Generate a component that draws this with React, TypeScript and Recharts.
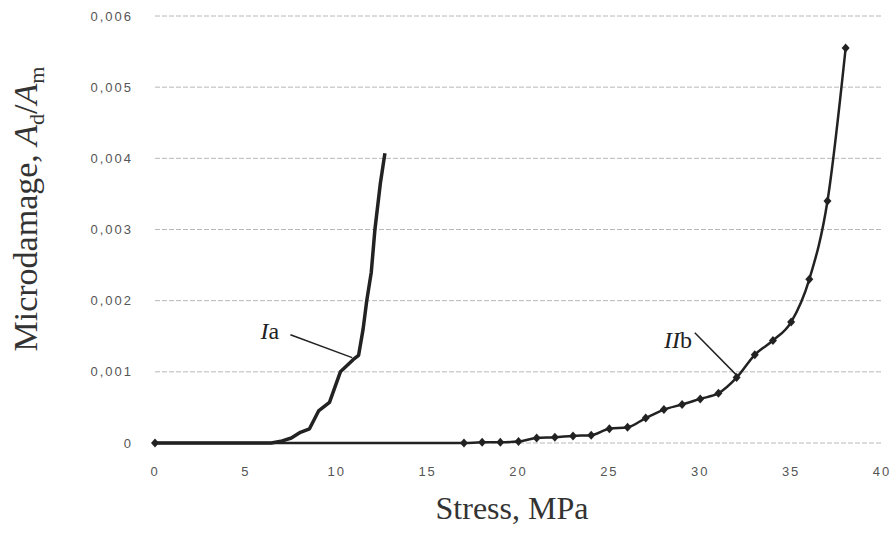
import { LineChart, Line, XAxis, YAxis, CartesianGrid, ReferenceLine, ReferenceDot } from 'recharts';

// curve Ia (no markers)
const stressIa = [0, 6.4, 7, 7.5, 8, 8.5, 9, 9.6, 10.2, 10.9, 11.2, 11.45, 11.65, 11.9, 12.1, 12.4, 12.65];
const damageIa = [0, 0, 0.00003, 0.00007, 0.00015, 0.0002, 0.00045, 0.00057, 0.001, 0.00117, 0.00123, 0.0016, 0.002, 0.0024, 0.003, 0.00365, 0.00407];

// curve IIb (diamond markers)
const stressIIb = [0, 17, 18, 19, 20, 21, 22, 23, 24, 25, 26, 27, 28, 29, 30, 31, 32, 33, 34, 35, 36, 37, 38];
const damageIIb = [0, 0, 0.00001, 0.00001, 0.00002, 0.00007, 0.00008, 0.0001, 0.00011, 0.0002, 0.00022, 0.00035, 0.00047, 0.00054, 0.00062, 0.0007, 0.00092, 0.00124, 0.00144, 0.0017, 0.0023, 0.0034, 0.00555];

const xTicks = [0, 5, 10, 15, 20, 25, 30, 35, 40];
const yTicks = [0, 0.001, 0.002, 0.003, 0.004, 0.005, 0.006];

const dataIa = stressIa.map((x, i) => ({ x, y: damageIa[i] }));
const dataIIb = stressIIb.map((x, i) => ({ x, y: damageIIb[i] }));

const Diamond = (props: any) => {
  const { cx, cy } = props;
  if (cx == null || cy == null) return null;
  return <polygon points={`${cx},${cy - 4.5} ${cx + 4},${cy} ${cx},${cy + 4.5} ${cx - 4},${cy}`} fill="#222" />;
};

const tickStyle = { fontSize: 13, fill: '#555', letterSpacing: 2, fontFamily: 'Liberation Sans, Arial, sans-serif' };
const serif = 'Liberation Serif, Times New Roman, serif';

const App = () => {
  return (
    <div style={{ position: 'absolute', left: 0, top: 0, width: 895, height: 535, background: '#fff' }}>
      <LineChart width={895} height={535} margin={{ top: 16, right: 13, left: 0, bottom: 62 }}>
        <CartesianGrid vertical={false} stroke="#b8b8b8" strokeDasharray="5 2" />
        <XAxis
          type="number"
          dataKey="x"
          domain={[0, 40]}
          ticks={xTicks}
          axisLine={false}
          tickLine={false}
          tick={tickStyle}
          tickMargin={18}
          allowDuplicatedCategory={false}
        />
        <YAxis
          type="number"
          dataKey="y"
          width={155}
          domain={[0, 0.006]}
          ticks={yTicks}
          axisLine={false}
          tickLine={false}
          tick={tickStyle}
          tickMargin={16}
          tickFormatter={(v: number) => (v === 0 ? '0' : v.toFixed(3).replace('.', ','))}
        />
        <Line data={dataIa} dataKey="y" type="linear" stroke="#222" strokeWidth={3.5} strokeLinejoin="round" dot={false} isAnimationActive={false} />
        <Line data={dataIIb} dataKey="y" type="monotone" stroke="#222" strokeWidth={2.5} dot={<Diamond />} activeDot={false} isAnimationActive={false} />
        <ReferenceLine segment={[{ x: 7.45, y: 0.00152 }, { x: 10.85, y: 0.0012 }]} stroke="#222" strokeWidth={1.5} />
        <ReferenceLine segment={[{ x: 29.7, y: 0.00155 }, { x: 32.05, y: 0.00094 }]} stroke="#222" strokeWidth={1.5} />
        <ReferenceDot
          x={5.8}
          y={0.00146}
          r={0}
          shape={(p: any) => (
            <text x={p.cx} y={p.cy} fontFamily={serif} fontSize={24} fill="#222">
              <tspan fontStyle="italic">I</tspan>a
            </text>
          )}
        />
        <ReferenceDot
          x={28.0}
          y={0.00133}
          r={0}
          shape={(p: any) => (
            <text x={p.cx} y={p.cy} fontFamily={serif} fontSize={24} fill="#222">
              <tspan fontStyle="italic">II</tspan>b
            </text>
          )}
        />
      </LineChart>
      <svg width={895} height={535} style={{ position: 'absolute', left: 0, top: 0, pointerEvents: 'none' }}>
        <text x={512} y={519} textAnchor="middle" fontFamily={serif} fontSize={32} fill="#333">
          Stress, MPa
        </text>
        <text x={37} y={209} textAnchor="middle" fontFamily={serif} fontSize={34} fill="#333" transform="rotate(-90 37 209)">
          Microdamage, <tspan fontStyle="italic">A</tspan>
          <tspan fontSize={22} dy={7}>d</tspan>
          <tspan dy={-7}>/</tspan>
          <tspan fontStyle="italic">A</tspan>
          <tspan fontSize={22} dy={7}>m</tspan>
        </text>
      </svg>
    </div>
  );
};

export default App;
